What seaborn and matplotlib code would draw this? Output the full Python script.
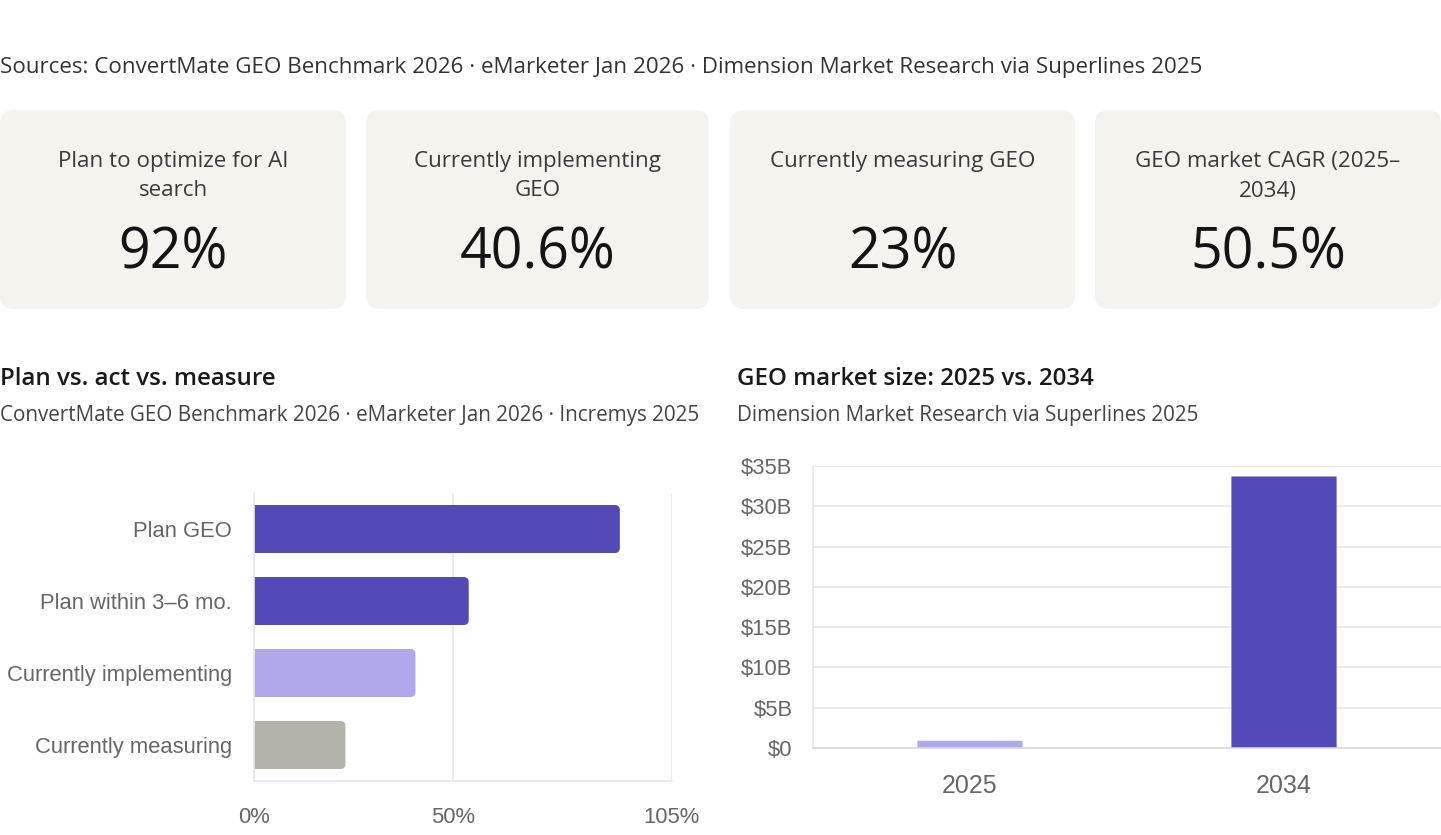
import matplotlib
matplotlib.use("Agg")
import matplotlib.pyplot as plt
import seaborn as sns
import pandas as pd
from matplotlib.patches import FancyBboxPatch, PathPatch
from matplotlib.path import Path

# ---------------- data ----------------
source_text = ("Sources: ConvertMate GEO Benchmark 2026 · eMarketer Jan 2026 · "
               "Dimension Market Research via Superlines 2025")
card_labels = [["Plan to optimize for AI", "search"],
               ["Currently implementing", "GEO"],
               ["Currently measuring GEO"],
               ["GEO market CAGR (2025–", "2034)"]]
card_values = ["92%", "40.6%", "23%", "50.5%"]

left_title = "Plan vs. act vs. measure"
left_sub = "ConvertMate GEO Benchmark 2026 · eMarketer Jan 2026 · Incremys 2025"
stages = ["Plan GEO", "Plan within 3–6 mo.", "Currently implementing", "Currently measuring"]
stage_pct = [92, 54, 40.6, 23]
stage_colors = ["#534AB7", "#534AB7", "#AFA9EC", "#B4B2A9"]
pct_ticks = [0, 50, 105]

right_title = "GEO market size: 2025 vs. 2034"
right_sub = "Dimension Market Research via Superlines 2025"
years = ["2025", "2034"]
market_b = [0.9, 33.7]
year_colors = ["#AFA9EC", "#534AB7"]
usd_ticks = [0, 5, 10, 15, 20, 25, 30, 35]

# ---------------- style ----------------
W, H, DPI = 1441, 835, 100
sns.set_theme(style="white")
UI_FONT = ["Open Sans", "DejaVu Sans"]
CHART_FONT = ["Liberation Sans", "DejaVu Sans"]
plt.rcParams["font.family"] = UI_FONT

CARD_BG = "#F4F3EE"
GRID = "#E8E8E8"
TICK_TXT = "#666666"
px = 72 / DPI  # points per pixel

fig = plt.figure(figsize=(W / DPI, H / DPI), dpi=DPI)
fig.patch.set_facecolor("white")

# overlay in pixel coordinates
bg = fig.add_axes([0, 0, 1, 1], zorder=0)
bg.set_xlim(0, W)
bg.set_ylim(H, 0)
bg.axis("off")

bg.text(0, 68, source_text, fontsize=16.1, color="#333333", va="center", ha="left")

cards_x = [(0, 346), (366, 709), (730, 1075), (1095, 1441)]
for (x0, x1), lab, val in zip(cards_x, card_labels, card_values):
    bg.add_patch(FancyBboxPatch((x0, 110), x1 - x0, 199,
                                boxstyle="round,pad=0,rounding_size=14",
                                fc=CARD_BG, ec="none", clip_on=False))
    cx = (x0 + x1) / 2
    for i, line in enumerate(lab):
        bg.text(cx, 161 + 30 * i, line, fontsize=16.1, color="#3a3a3a",
                ha="center", va="center")
    bg.text(cx, 254, val, fontsize=40, color="#141414", ha="center", va="center")

bg.text(0, 379, left_title, fontsize=17.4, fontweight="semibold", color="#1a1a1a",
        ha="left", va="center")
bg.text(0, 416, left_sub, fontsize=14.85, color="#444444", ha="left", va="center")
bg.text(737, 379, right_title, fontsize=17.4, fontweight="semibold", color="#1a1a1a",
        ha="left", va="center")
bg.text(737, 416, right_sub, fontsize=14.85, color="#444444", ha="left", va="center")


def fax(x0, y_top, x1, y_bot):
    return [x0 / W, 1 - y_bot / H, (x1 - x0) / W, (y_bot - y_top) / H]


def round_bars(ax, r_px, horizontal):
    """Replace each bar by a path with rounded corners at its value end."""
    fig.canvas.draw()
    bb = ax.get_window_extent()
    xl, yl = ax.get_xlim(), ax.get_ylim()
    xu = abs(xl[1] - xl[0]) / bb.width
    yu = abs(yl[1] - yl[0]) / bb.height
    rx, ry = r_px * xu, r_px * yu
    M, L, C, Z = Path.MOVETO, Path.LINETO, Path.CURVE3, Path.CLOSEPOLY
    for p in list(ax.patches):
        x, y, w, h = p.get_x(), p.get_y(), p.get_width(), p.get_height()
        x0, x1 = min(x, x + w), max(x, x + w)
        y0, y1 = min(y, y + h), max(y, y + h)
        c = p.get_facecolor()
        if horizontal:
            r_x = min(rx, (x1 - x0) / 2)
            r_y = min(ry, (y1 - y0) / 2)
            verts = [(x0, y0), (x1 - r_x, y0), (x1, y0), (x1, y0 + r_y),
                     (x1, y1 - r_y), (x1, y1), (x1 - r_x, y1), (x0, y1), (x0, y0)]
        else:
            r_x = min(rx, (x1 - x0) / 2)
            r_y = min(ry, (y1 - y0) / 2)
            verts = [(x0, y0), (x1, y0), (x1, y1 - r_y), (x1, y1), (x1 - r_x, y1),
                     (x0 + r_x, y1), (x0, y1), (x0, y1 - r_y), (x0, y0)]
        codes = [M, L, C, C, L, C, C, L, Z]
        p.remove()
        ax.add_patch(PathPatch(Path(verts, codes), fc=c, ec="none", lw=0, zorder=2))


# ---------------- left chart ----------------
axL = fig.add_axes(fax(254, 493, 671.5, 781), zorder=2)
dfL = pd.DataFrame({"stage": stages, "pct": stage_pct})
sns.barplot(data=dfL, x="pct", y="stage", hue="stage", palette=stage_colors,
            orient="h", width=0.667, legend=False, ax=axL, saturation=1)
axL.set_xlim(0, 105)
axL.set_ylim(3.5, -0.5)
axL.set_xticks(pct_ticks)
axL.set_xticklabels([f"{t}%" for t in pct_ticks])
axL.set_xlabel("")
axL.set_ylabel("")
axL.grid(axis="x", color=GRID, lw=1.2)
axL.grid(axis="y", visible=False)
axL.set_axisbelow(True)
for s in ["top", "right"]:
    axL.spines[s].set_visible(False)
for s in ["left", "bottom"]:
    axL.spines[s].set_color(GRID)
    axL.spines[s].set_linewidth(1.2)
axL.tick_params(axis="x", length=8 * px, width=1.2, color=GRID, pad=13,
                labelsize=15.8, labelcolor=TICK_TXT)
axL.tick_params(axis="y", length=0, pad=16, labelsize=15.8, labelcolor=TICK_TXT)
for t in axL.get_xticklabels() + axL.get_yticklabels():
    t.set_family(CHART_FONT)
axL.patch.set_alpha(0)
round_bars(axL, 5, True)

# ---------------- right chart ----------------
axR = fig.add_axes(fax(813, 466, 1441, 748), zorder=2)
dfR = pd.DataFrame({"year": years, "usd": market_b})
sns.barplot(data=dfR, x="year", y="usd", hue="year", palette=year_colors,
            width=0.335, legend=False, ax=axR, saturation=1)
axR.set_ylim(0, 35)
axR.set_xlim(-0.5, 1.5)
axR.set_yticks(usd_ticks)
axR.set_yticklabels([f"${t}B" if t else "$0" for t in usd_ticks])
axR.set_xlabel("")
axR.set_ylabel("")
axR.grid(axis="y", color=GRID, lw=1.2)
axR.grid(axis="x", visible=False)
axR.set_axisbelow(True)
for s in ["top", "right"]:
    axR.spines[s].set_visible(False)
for s in ["left", "bottom"]:
    axR.spines[s].set_color(GRID)
    axR.spines[s].set_linewidth(1.2)
axR.spines["bottom"].set_color("#D9D9D9")
axR.tick_params(axis="y", length=8 * px, width=1.2, color=GRID, pad=9,
                labelsize=15.8, labelcolor=TICK_TXT)
axR.tick_params(axis="x", length=0, pad=18.5, labelsize=18, labelcolor=TICK_TXT)
for t in axR.get_xticklabels() + axR.get_yticklabels():
    t.set_family(CHART_FONT)
axR.patch.set_alpha(0)
round_bars(axR, 5, False)

fig.savefig("out.png", dpi=DPI, facecolor="white")
